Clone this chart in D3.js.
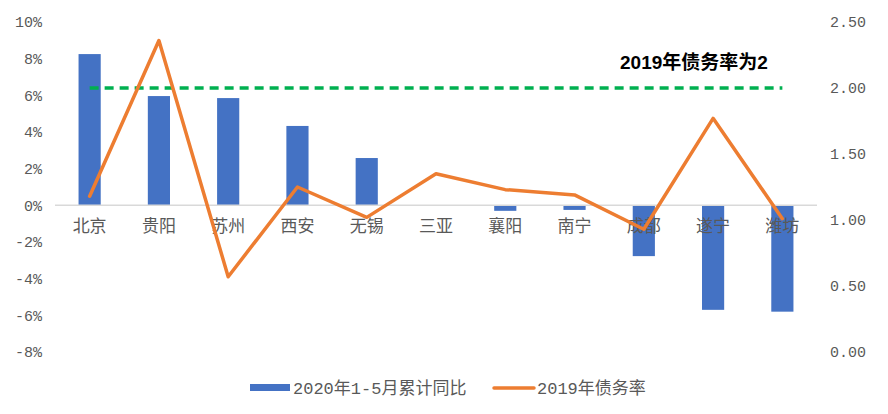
<!DOCTYPE html>
<html><head><meta charset="utf-8">
<script src="https://cdn.jsdelivr.net/npm/d3@7"></script>
<style>body{margin:0;background:#fff}svg{display:block}</style>
</head><body>
<svg id="c" width="888" height="414"></svg>
<script>
const categories = ["北京","贵阳","苏州","西安","无锡","三亚","襄阳","南宁","成都","遂宁","潍坊"];
const growth2020 = [8.25, 5.96, 5.85, 4.33, 2.58, 0.0, -0.3, -0.25, -2.77, -5.7, -5.8];
const debtRate2019 = [1.18, 2.36, 0.57, 1.25, 1.02, 1.35, 1.23, 1.19, 0.93, 1.77, 1.01];
const leftTicks = [-8,-6,-4,-2,0,2,4,6,8,10];
const rightTicks = [0,0.5,1,1.5,2,2.5];
const refValue = 2;
const seriesNames = ["2020年1-5月累计同比","2019年债务率"];
const refLabel = "2019年债务率为2";

const svg = d3.select("#c");
const x = d3.scaleBand().domain(categories).range([55,817]).paddingInner(0.68).paddingOuter(0.34);
const yL = d3.scaleLinear().domain([-8,10]).range([352,22]);
const yR = d3.scaleLinear().domain([0,2.5]).range([352,22]);
const mono = "'Liberation Mono','Noto Sans CJK SC',monospace";
const sans = "'Noto Sans CJK SC','Noto Sans',sans-serif";

// left axis labels
svg.append("g").selectAll("text").data(leftTicks).join("text")
  .attr("x",42).attr("y",d=>yL(d)).attr("dy","0.35em").attr("text-anchor","end")
  .attr("font-family",mono).attr("font-size",15).attr("fill","#595959")
  .text(d=>d+"%");
// right axis labels
svg.append("g").selectAll("text").data(rightTicks).join("text")
  .attr("x",866).attr("y",d=>yR(d)).attr("dy","0.35em").attr("text-anchor","end")
  .attr("font-family",mono).attr("font-size",15).attr("fill","#595959")
  .text(d=>d3.format(".2f")(d));

// bars
svg.append("g").selectAll("rect").data(categories).join("rect")
  .attr("x",c=>x(c)).attr("width",x.bandwidth())
  .attr("y",(c,i)=>Math.min(yL(growth2020[i]),yL(0)))
  .attr("height",(c,i)=>Math.abs(yL(growth2020[i])-yL(0)))
  .attr("fill","#4472C4");

// zero axis line
svg.append("line").attr("x1",55).attr("x2",817).attr("y1",yL(0)).attr("y2",yL(0))
  .attr("stroke","#D9D9D9").attr("stroke-width",1.5);

// category labels
svg.append("g").selectAll("text").data(categories).join("text")
  .attr("x",c=>x(c)+x.bandwidth()/2).attr("y",226).attr("dy","0.35em").attr("text-anchor","middle")
  .attr("font-family",sans).attr("font-size",17).attr("fill","#595959").text(c=>c);

// reference line
const cx = c=>x(c)+x.bandwidth()/2;
svg.append("line").attr("x1",cx(categories[0])).attr("x2",cx(categories[categories.length-1]))
  .attr("y1",yR(refValue)).attr("y2",yR(refValue))
  .attr("stroke","#00B050").attr("stroke-width",3.5).attr("stroke-dasharray","9,6");
svg.append("text").attr("x",620).attr("y",62).attr("dy","0.35em")
  .attr("font-family","'Liberation Sans','Noto Sans CJK SC',sans-serif").attr("font-weight","bold")
  .attr("font-size",19).attr("fill","#000").text(refLabel);

// line
const line = d3.line().x((d,i)=>cx(categories[i])).y(d=>yR(d));
svg.append("path").datum(debtRate2019).attr("d",line).attr("fill","none")
  .attr("stroke","#ED7D31").attr("stroke-width",3.5).attr("stroke-linejoin","round").attr("stroke-linecap","round");

// legend
const lg = svg.append("g");
lg.append("rect").attr("x",250).attr("y",384).attr("width",40).attr("height",7).attr("fill","#4472C4");
lg.append("text").attr("x",293).attr("y",388).attr("dy","0.35em").attr("font-family",mono)
  .attr("font-size",17).attr("fill","#595959").text(seriesNames[0]);
lg.append("line").attr("x1",494).attr("x2",534).attr("y1",388).attr("y2",388)
  .attr("stroke","#ED7D31").attr("stroke-width",3.5).attr("stroke-linecap","round");
lg.append("text").attr("x",537).attr("y",388).attr("dy","0.35em").attr("font-family",mono)
  .attr("font-size",17).attr("fill","#595959").text(seriesNames[1]);
</script>
</body></html>
